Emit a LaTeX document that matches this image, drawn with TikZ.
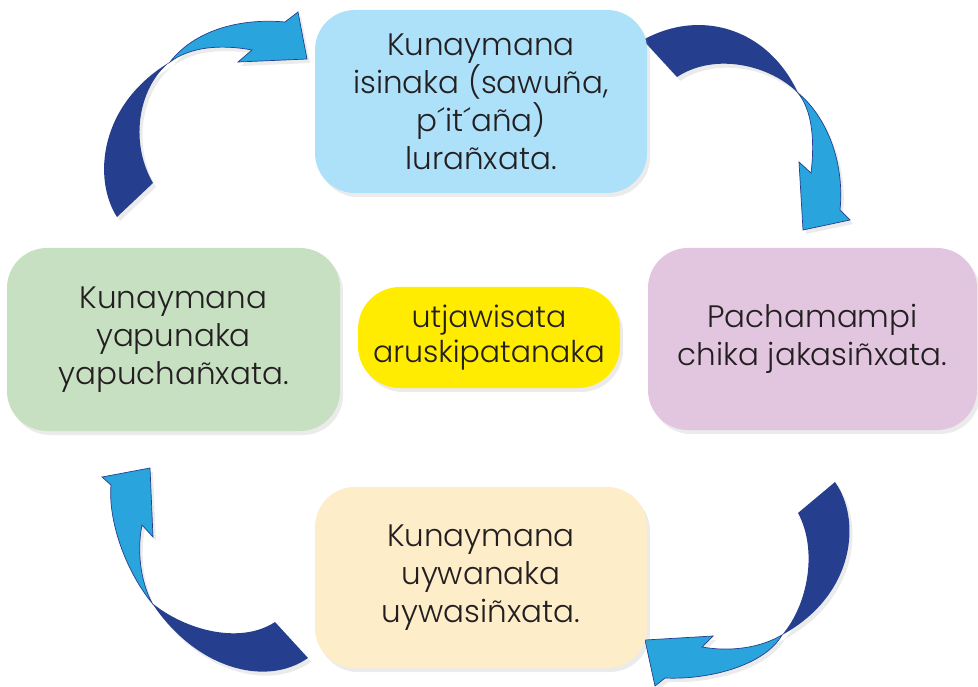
\documentclass[tikz,border=0pt]{standalone}
\usepackage{fontspec}
\setmainfont{Poppins}[UprightFont=* Light]
\usetikzlibrary{shadows}
\definecolor{boxblue}{RGB}{173,225,249}
\definecolor{boxpink}{RGB}{226,198,224}
\definecolor{boxgreen}{RGB}{199,224,194}
\definecolor{boxcream}{RGB}{253,237,200}
\definecolor{boxyellow}{RGB}{255,236,0}
\definecolor{dkblue}{RGB}{37,63,142}
\definecolor{ltblue}{RGB}{42,164,221}
\definecolor{txt}{RGB}{35,31,32}
\begin{document}
\begin{tikzpicture}[x=1pt,y=-1pt,
  shd/.style={drop shadow={opacity=0.16, shadow xshift=3pt, shadow yshift=-4pt}},
  box/.style={shd, rectangle, rounded corners=40pt, align=center, text=txt,
    font=\fontsize{31}{38}\selectfont, inner sep=0pt},
  dk/.style={fill=dkblue, shd},
  lt/.style={fill=ltblue, draw=dkblue, line width=0.7pt, line join=miter, shd}]
\useasboundingbox (0,0) rectangle (978,687);

% arrows
\coordinate (tlTwist) at (170,62);
\coordinate (trTwist) at (798,93);
\coordinate (brTwist) at (782,635);
\coordinate (blTwist) at (152,603);

% top left
\fill[dk] (117,217) .. controls (93,180) and (98,105) .. (tlTwist)
  .. controls (140,85) and (128,140) .. (153,183) -- cycle;
\filldraw[lt] (tlTwist) .. controls (195,30) and (240,18) .. (285,22)
  -- (298,12) -- (307,59) -- (238,62) -- (252,50)
  .. controls (220,44) and (190,47) .. (tlTwist) -- cycle;

% top right
\fill[dk] (643,40) .. controls (700,8) and (768,28) .. (trTwist)
  .. controls (770,65) and (715,52) .. (677,77) -- cycle;
\filldraw[lt] (trTwist) .. controls (825,115) and (845,160) .. (840,210)
  -- (850,220) -- (803,230) -- (799,162) -- (811,173)
  .. controls (815,140) and (812,110) .. (trTwist) -- cycle;

% bottom right
\fill[dk] (835,482) .. controls (862,520) and (855,595) .. (brTwist)
  .. controls (808,605) and (818,550) .. (798,513) -- cycle;
\filldraw[lt] (brTwist) .. controls (765,665) and (710,680) .. (665,678)
  -- (655,686) -- (645,640) -- (713,636) -- (702,647)
  .. controls (730,652) and (760,648) .. (brTwist) -- cycle;

% bottom left
\fill[dk] (308,658) .. controls (265,688) and (195,668) .. (blTwist)
  .. controls (185,630) and (240,645) .. (275,622) -- cycle;
\filldraw[lt] (blTwist) .. controls (125,570) and (108,520) .. (111,485)
  -- (102,477) -- (150,468) -- (153,537) -- (142,525)
  .. controls (137,550) and (140,580) .. (blTwist) -- cycle;

% boxes
\node[box, fill=boxblue, minimum width=332pt, minimum height=183pt] (top) at (481,101.5)
  {Kunaymana\\isinaka (sawuña,\\p´it´aña)\\lurañxata.};
\node[box, fill=boxpink, minimum width=329pt, minimum height=182pt] (right) at (812.5,339)
  {Pachamampi\\chika jakasiñxata.};
\node[box, fill=boxgreen, minimum width=333pt, minimum height=183pt] (left) at (173.5,339.5)
  {Kunaymana\\yapunaka\\yapuchañxata.};
\node[box, fill=boxcream, minimum width=332pt, minimum height=181pt] (bottom) at (481,577.5)
  {Kunaymana\\uywanaka\\uywasiñxata.};
\node[box, fill=boxyellow, rounded corners=42pt, minimum width=262pt, minimum height=101pt,
  font=\fontsize{30}{35}\selectfont] (center) at (489,337.5)
  {utjawisata\\aruskipatanaka};
\end{tikzpicture}
\end{document}
